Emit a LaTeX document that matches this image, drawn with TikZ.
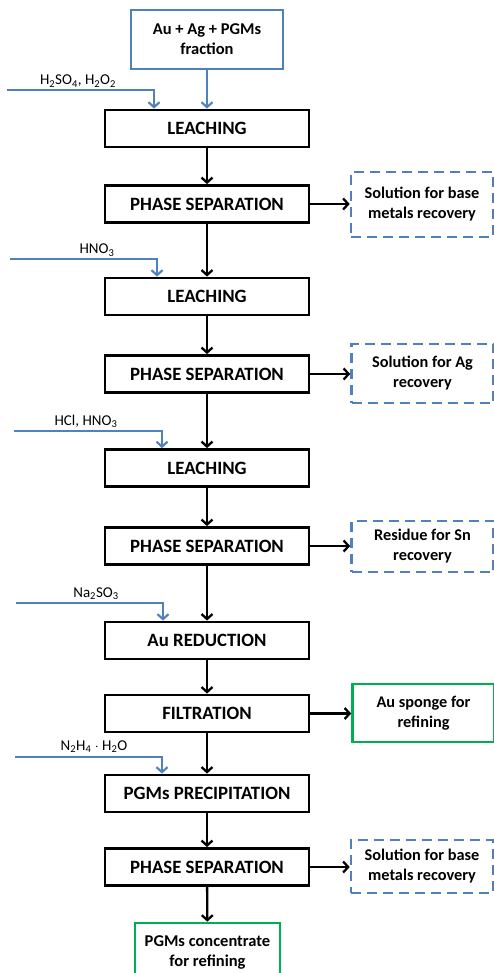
\documentclass[tikz,border=0pt]{standalone}
\usepackage{fontspec}
\setmainfont{Carlito}
\usetikzlibrary{arrows.meta}
\usetikzlibrary{positioning}
\definecolor{flowblue}{RGB}{79,129,189}
\definecolor{flowgreen}{RGB}{0,176,80}

\begin{document}
\begin{tikzpicture}[x=1pt,y=-1pt,->,>={Straight Barb[length=5pt,width=11pt]},
    unit box/.style={rectangle,draw,line width=2.8pt,minimum width=204pt,minimum height=37pt,inner sep=0pt,font=\fontsize{18.8}{22}\selectfont\bfseries},
    out box/.style={rectangle,draw,line width=2.6pt,minimum width=142pt,inner sep=0pt,align=center,font=\fontsize{16.3}{20}\selectfont\bfseries},
    waste box/.style={out box,draw=flowblue,dash pattern=on 10pt off 6pt},
    product box/.style={out box,draw=flowgreen},
    reagent/.style={anchor=base,inner sep=0pt,font=\fontsize{15}{18}\selectfont},
    main flow/.style={line width=2.3pt},
    feed flow/.style={line width=2.1pt,draw=flowblue}]
  \useasboundingbox (0,0) rectangle (494,973);
  % input fraction
  \node[out box,draw=flowblue,minimum width=152pt,minimum height=59pt,font=\fontsize{16.5}{20}\selectfont\bfseries] (feed) at (207,39.5) {Au + Ag + PGMs\\fraction};
  % process steps
  \node[unit box] (leach1) at (207,128.5) {LEACHING};
  \node[unit box] (sep1) at (207,204) {PHASE SEPARATION};
  \node[unit box] (leach2) at (207,296.5) {LEACHING};
  \node[unit box] (sep2) at (207,374) {PHASE SEPARATION};
  \node[unit box] (leach3) at (207,468) {LEACHING};
  \node[unit box] (sep3) at (207,546) {PHASE SEPARATION};
  \node[unit box] (reduce) at (207,640.5) {Au REDUCTION};
  \node[unit box] (filter) at (207,713.5) {FILTRATION};
  \node[unit box] (precip) at (207,793.5) {PGMs PRECIPITATION};
  \node[unit box] (sep4) at (207,867) {PHASE SEPARATION};
  \node[product box,minimum width=145pt,minimum height=59pt,font=\fontsize{16.5}{20}\selectfont\bfseries] (conc) at (207.5,952.5) {PGMs concentrate\\for refining};
  % side streams
  \node[waste box,minimum height=65pt] (sol1) at (422,204.5) {Solution for base\\metals recovery};
  \node[waste box,minimum height=59pt] (sol2) at (422.5,373.5) {Solution for Ag\\recovery};
  \node[waste box,minimum height=51pt] (res3) at (422.5,546.5) {Residue for Sn\\recovery};
  \node[product box,minimum height=58pt] (sponge) at (423.5,713) {Au sponge for\\refining};
  \node[waste box,minimum height=53pt] (sol4) at (422,866.5) {Solution for base\\metals recovery};
  % reagents
  \coordinate (r1) at (7,90);
  \coordinate (r2) at (10,259);
  \coordinate (r3) at (14,431);
  \coordinate (r4) at (16,603);
  \coordinate (r5) at (15,757);
  \node[reagent] (r1 label) at (78,85) {H\textsubscript{2}SO\textsubscript{4}, H\textsubscript{2}O\textsubscript{2}};
  \node[reagent] (r2 label) at (97,254) {HNO\textsubscript{3}};
  \node[reagent] (r3 label) at (86,425) {HCl, HNO\textsubscript{3}};
  \node[reagent] (r4 label) at (96,597) {Na\textsubscript{2}SO\textsubscript{3}};
  \node[reagent] (r5 label) at (94,750) {N\textsubscript{2}H\textsubscript{4} $\cdot$ H\textsubscript{2}O};
  \draw[feed flow] (r1) -| ([xshift=-53pt]leach1.north);
  \draw[feed flow] (r2) -| ([xshift=-50pt]leach2.north);
  \draw[feed flow] (r3) -| ([xshift=-45pt]leach3.north);
  \draw[feed flow] (r4) -| ([xshift=-44pt]reduce.north);
  \draw[feed flow] (r5) -| ([xshift=-45pt]precip.north);
  \path[feed flow] (feed) edge (leach1);
  % main line
  \path[main flow] (leach1) edge (sep1);
  \path[main flow] (sep1) edge (leach2);
  \path[main flow] (leach2) edge (sep2);
  \path[main flow] (sep2) edge (leach3);
  \path[main flow] (leach3) edge (sep3);
  \path[main flow] (sep3) edge (reduce);
  \path[main flow] (reduce) edge (filter);
  \path[main flow] (filter) edge (precip);
  \path[main flow] (precip) edge (sep4);
  \path[main flow] (sep4) edge (conc);
  % outlets
  \path[main flow] (sep1) edge (sep1 -| sol1.west);
  \path[main flow] (sep2) edge (sep2 -| sol2.west);
  \path[main flow] (sep3) edge (sep3 -| res3.west);
  \path[main flow] (filter) edge (filter -| sponge.west);
  \path[main flow] (sep4) edge (sep4 -| sol4.west);
\end{tikzpicture}
\end{document}
